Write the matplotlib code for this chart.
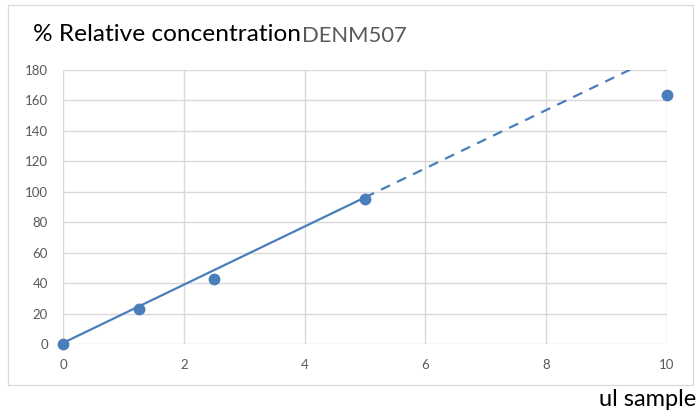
import matplotlib
matplotlib.use("Agg")
import matplotlib.pyplot as plt
from matplotlib.patches import Rectangle
import numpy as np

# Measured points: sample volume (ul) vs % relative concentration
volume_ul = [0, 1.25, 2.5, 5, 10]
rel_conc = [0, 23, 43, 95.3, 163.6]

# Linear trend fitted over the linear range, projected forward
trend_slope = 19.1
trend_intercept = 0.8
fit_end = 5
forecast_end = 10

x_ticks = [0, 2, 4, 6, 8, 10]
y_ticks = [0, 20, 40, 60, 80, 100, 120, 140, 160, 180]

blue = "#4A7EBB"
grid_col = "#D9D9D9"
tick_col = "#595959"
font = "Lato"

fig = plt.figure(figsize=(6.97, 4.13), dpi=100)
W, H = 697, 413

# chart frame
fig.patches.append(Rectangle((8 / W, 1 - 385 / H), (693 - 8) / W, (385 - 5) / H,
                             transform=fig.transFigure, fill=False,
                             edgecolor=grid_col, linewidth=0.9))

ax = fig.add_axes([63.3 / W, 1 - 344 / H, (666.7 - 63.3) / W, (344 - 70) / H])
ax.set_xlim(x_ticks[0], x_ticks[-1])
ax.set_ylim(y_ticks[0], y_ticks[-1])
ax.set_xticks(x_ticks)
ax.set_yticks(y_ticks)
ax.set_xticklabels([str(v) for v in x_ticks], fontsize=9.5, color=tick_col, family=font)
ax.set_yticklabels([str(v) for v in y_ticks], fontsize=9.5, color=tick_col, family=font)
ax.tick_params(axis="both", length=0)
ax.tick_params(axis="x", pad=10.5)
ax.tick_params(axis="y", pad=11)
for s in ax.spines.values():
    s.set_visible(False)
ax.grid(True, color=grid_col, linewidth=1.0)
ax.set_axisbelow(True)

# solid fit over measured range, dashed projection beyond it
xs = np.array([0, fit_end])
ax.plot(xs, trend_intercept + trend_slope * xs, color=blue, linewidth=1.6,
        solid_capstyle="butt")
xf = np.array([fit_end, forecast_end])
ax.plot(xf, trend_intercept + trend_slope * xf, color=blue, linewidth=1.6,
        dashes=(4.5, 3.5))

ax.plot(volume_ul, rel_conc, linestyle="none", marker="o", markersize=7.5,
        color=blue, clip_on=False, zorder=5)

fig.text(33 / W, 1 - 40.7 / H, "% Relative concentration", fontsize=17.6,
         family=font, color="black", va="baseline", ha="left")
fig.text(301.5 / W, 1 - 41.7 / H, "DENM507", fontsize=15.8, family=font,
         color=tick_col, va="baseline", ha="left")
fig.text(696 / W, 1 - 406 / H, "ul sample", fontsize=17, family=font,
         color="black", va="baseline", ha="right")

fig.savefig("out.png", dpi=100)
